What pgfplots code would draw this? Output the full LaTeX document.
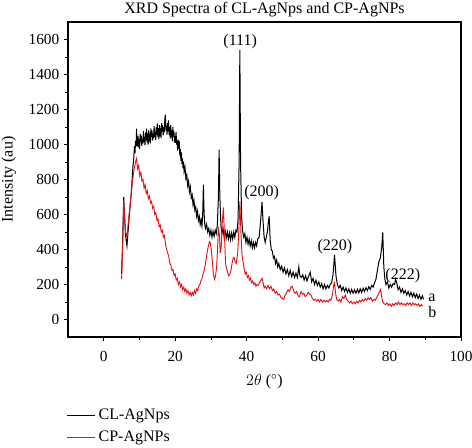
\documentclass[border=0pt]{standalone}
\usepackage{fontspec}
\setmainfont{Liberation Serif}
\usepackage{pgfplots}
\pgfplotsset{compat=1.18}
\definecolor{cpred}{RGB}{228,20,20}
\newcommand{\ff}{\fontsize{12}{14}\selectfont}
\begin{document}
\begin{tikzpicture}
\begin{axis}[
  name=ax,
  scale only axis,
  width=294.75pt, height=236.25pt,
  xmin=-10, xmax=100, ymin=-100, ymax=1700,
  xtick={0,20,40,60,80,100},
  ytick={0,200,400,600,800,1000,1200,1400,1600},
  minor x tick num=1, minor y tick num=1,
  tick align=outside,
  xtick pos=left, ytick pos=left,
  major tick length=3pt, minor tick length=2pt,
  axis line style={line width=0.8pt},
  every tick/.style={black, line width=0.6pt},
  /pgf/number format/assume math mode=true,
  /pgf/number format/1000 sep={},
  tick label style={font=\fontsize{11.5}{13}\selectfont},
  xticklabel style={yshift=-4pt},
  label style={font=\ff},
  title style={font=\ff, yshift=-6pt},
  title={XRD Spectra of CL-AgNps and CP-AgNPs},
  xlabel={$2\theta$ ($^{\circ}$)},
  ylabel={Intensity (au)},
  xlabel style={yshift=-3pt},
  ylabel style={yshift=2.5pt},
  clip=false,
  legend style={at={(0,0)}, anchor=north west, xshift=-4pt, yshift=-50pt, draw=none, fill=none,
    font=\ff, row sep=3pt},
  legend cell align=left,
  legend image code/.code={\draw[#1, line width=0.8pt] (0pt,0pt) -- (21pt,0pt);},
]
\addplot[black, line width=0.75pt] coordinates {
(5.0,260)(5.3,450)(5.6,700)(5.8,610)(6.1,480)(6.5,420)(6.8,500)(7.1,580)(7.4,650)(7.7,720)
(8.0,820)(8.2,880)(8.4,920)(8.6,990)(8.75,950)(8.9,1020)(9.05,990)(9.2,1090)(9.35,990)(9.5,1040)
(9.6,1043)(9.75,983)(9.9,1032)(10.05,975)(10.2,1062)(10.35,1014)(10.5,1050)(10.65,992)(10.8,1033)(10.95,1005)
(11.1,1076)(11.25,1013)(11.4,1044)(11.55,996)(11.7,1067)(11.85,1024)(12.0,1090)(12.15,1012)(12.3,1063)(12.45,1000)
(12.6,1081)(12.75,1018)(12.9,1064)(13.05,1006)(13.2,1092)(13.35,1044)(13.5,1080)(13.65,1022)(13.8,1063)(13.95,1035)
(14.1,1106)(14.25,1043)(14.4,1074)(14.55,1026)(14.7,1097)(14.85,1054)(15.0,1120)(15.15,1042)(15.3,1093)(15.45,1030)
(15.6,1111)(15.75,1048)(15.9,1094)(16.05,1036)(16.2,1122)(16.35,1074)(16.5,1110)(16.65,1052)(16.8,1097)(16.95,1070)
(17.1,1144)(17.25,1170)(17.4,1079)(17.55,1107)(17.7,1056)(17.85,1124)(18.0,1075)(18.15,1137)(18.3,1054)(18.45,1101)
(18.6,1033)(18.75,1110)(18.9,1042)(19.05,1084)(19.2,1019)(19.35,1100)(19.5,1045)(19.65,1076)(19.8,1011)(19.95,1047)
(20.1,1010)(20.25,1072)(20.4,1000)(20.55,1022)(20.7,965)(20.85,1027)(21.0,975)(21.15,1018)(21.3,936)(21.45,974)
(21.6,907)(21.75,955)(21.9,888)(22.05,921)(22.2,864)(22.35,902)(22.5,845)(22.75,870)(23.0,805)(23.25,825)
(23.5,765)(23.75,790)(24.0,730)(24.25,757)(24.5,695)(24.75,712)(25.0,655)(25.25,682)(25.5,625)(25.75,642)
(26.0,590)(26.25,618)(26.5,566)(26.75,589)(27.0,542)(27.25,570)(27.5,535)(27.7,600)(27.9,770)(28.1,600)
(28.3,540)(28.5,520)(28.8,545)
(29.1,500)(29.4,520)(29.7,480)(30.0,510)(30.3,470)(30.6,505)(30.9,475)(31.2,510)(31.5,490)(31.8,540)
(32.1,700)(32.3,970)(32.5,700)(32.8,540)(33.1,490)(33.4,520)(33.7,470)(34.0,505)(34.3,465)(34.6,500)
(34.9,460)(35.2,495)(35.5,455)(35.8,495)(36.1,460)(36.4,500)(36.7,470)(37.0,510)(37.3,500)(37.6,570)
(37.9,900)(38.1,1540)(38.3,900)(38.6,580)(38.9,500)(39.2,470)(39.5,490)(39.8,440)(40.1,470)(40.4,430)
(40.7,460)(41.0,420)(41.3,450)(41.6,410)(41.9,440)(42.2,410)(42.5,440)(42.8,420)(43.1,460)(43.5,470)
(43.9,560)(44.3,670)(44.6,560)(44.9,470)(45.2,440)(45.5,470)(45.8,500)(46.1,560)(46.3,590)(46.6,450)
(46.9,400)(47.2,390)(47.5,350)(47.8,360)(48.1,320)(48.4,340)(48.7,300)(49.0,320)(49.4,285)(49.8,305)
(50.2,270)(50.6,295)(51.0,260)(51.4,285)(51.8,250)(52.2,280)(52.6,245)(53.0,270)(53.4,240)(53.8,265)
(54.2,240)(54.6,300)(54.9,250)(55.3,240)(55.7,255)(56.1,225)(56.5,250)(56.9,220)(57.3,245)(57.8,270)
(58.2,215)(58.6,235)(59.0,200)(59.4,225)(59.8,195)(60.2,215)(60.6,185)(61.0,205)(61.4,175)(61.8,200)
(62.2,175)(62.6,195)(63.0,180)(63.4,200)(63.8,210)(64.2,260)(64.6,370)(65.0,250)(65.4,200)(65.8,180)
(66.2,195)(66.6,165)(67.0,185)(67.4,160)(67.8,180)(68.2,155)(68.6,175)(69.0,150)(69.4,172)(69.8,150)
(70.2,170)(70.6,150)(71.0,172)(71.4,152)(71.8,175)(72.2,155)(72.6,178)(73.0,160)(73.4,182)(73.8,165)
(74.2,188)(74.6,172)(75.0,195)(75.4,185)(75.8,210)(76.2,230)(76.6,280)(77.0,330)(77.4,350)(77.8,410)
(78.1,497)(78.4,300)(78.7,230)(79.0,200)(79.4,215)(79.8,180)(80.2,200)(80.6,185)(81.0,205)(81.4,200)
(81.7,230)(82.0,210)(82.4,170)(82.8,185)(83.2,155)(83.6,175)(84.0,150)(84.4,165)(84.8,140)(85.2,160)
(85.6,135)(86.0,155)(86.4,130)(86.8,150)(87.2,125)(87.6,145)(88.0,120)(88.4,140)(88.8,115)(89.2,135)
(89.5,115)
};
\addlegendentry{CL-AgNps}
\addplot[cpred, line width=0.7pt] coordinates {
(5.0,230)(5.3,420)(5.6,680)(5.8,600)(6.1,500)(6.5,470)(6.8,540)(7.1,600)(7.4,660)(7.7,720)
(8.0,780)(8.3,830)(8.6,870)(8.9,900)(9.2,920)(9.5,860)(9.8,880)(10.1,820)(10.4,840)(10.7,790)
(11.0,800)(11.3,750)(11.6,770)(11.9,720)(12.2,735)(12.5,690)(12.8,705)(13.1,665)(13.4,675)(13.7,635)
(14.0,645)(14.3,600)(14.6,610)(14.9,565)(15.2,575)(15.5,530)(15.8,540)(16.1,500)(16.4,510)(16.7,470)
(17.0,480)(17.3,430)(17.6,400)(17.9,380)(18.2,360)(18.5,320)(18.8,310)(19.1,280)(19.4,285)(19.7,250)
(20.0,260)(20.3,225)(20.6,235)(20.9,200)(21.2,215)(21.5,185)(21.8,200)(22.1,170)(22.4,185)(22.7,160)
(23.0,175)(23.3,150)(23.6,165)(23.9,140)(24.2,155)(24.5,135)(24.8,155)(25.1,140)(25.4,165)(25.7,150)
(26.0,175)(26.3,165)(26.6,190)(26.9,200)(27.2,220)(27.5,235)(27.8,260)(28.1,280)(28.4,310)(28.7,350)
(29.0,390)(29.3,420)(29.6,445)(29.8,440)(30.1,400)(30.4,330)(30.7,260)(31.0,230)(31.3,250)(31.6,300)
(31.9,420)(32.1,530)(32.4,480)(32.6,380)(32.9,420)(33.2,560)(33.5,640)(33.8,480)(34.1,320)(34.4,290)
(34.7,270)(35.0,250)(35.3,260)(35.6,280)(35.9,320)(36.2,350)(36.5,355)(36.8,330)(37.1,320)(37.5,380)
(37.8,500)(38.1,675)(38.4,500)(38.7,370)(39.0,330)(39.3,290)(39.6,260)(39.9,270)(40.2,240)(40.5,250)
(40.8,225)(41.1,235)(41.4,210)(41.7,220)(42.0,200)(42.3,210)(42.6,190)(42.9,200)(43.2,195)(43.6,210)
(44.0,225)(44.3,235)(44.6,210)(44.9,180)(45.2,190)(45.6,175)(46.0,195)(46.4,175)(46.8,190)(47.2,165)
(47.6,175)(48.0,150)(48.4,160)(48.8,140)(49.2,145)(49.6,125)(50.0,120)(50.4,115)(50.8,140)(51.2,155)
(51.6,170)(52.0,160)(52.4,185)(52.8,190)(53.2,160)(53.6,150)(54.0,160)(54.4,135)(54.8,130)(55.2,160)
(55.6,145)(56.0,150)(56.4,130)(56.8,140)(57.2,155)(57.6,145)(58.0,140)(58.4,120)(58.8,110)(59.2,115)
(59.6,105)(60.0,115)(60.4,100)(60.8,115)(61.2,100)(61.6,110)(62.0,100)(62.4,110)(62.8,100)(63.2,115)
(63.6,110)(64.0,140)(64.4,200)(64.6,210)(64.9,150)(65.2,115)(65.6,105)(66.0,115)(66.4,100)(66.8,130)
(67.2,120)(67.6,140)(68.0,115)(68.4,105)(68.8,95)(69.2,105)(69.6,90)(70.0,100)(70.4,90)(70.8,105)
(71.2,95)(71.6,110)(72.0,100)(72.4,115)(72.8,105)(73.2,120)(73.6,110)(74.0,125)(74.4,115)(74.8,125)
(75.2,105)(75.6,115)(76.0,110)(76.4,125)(76.8,140)(77.2,160)(77.5,172)(77.8,130)(78.1,100)(78.5,90)
(78.9,85)(79.3,95)(79.7,80)(80.1,90)(80.5,75)(80.9,90)(81.3,80)(81.7,95)(82.1,85)(82.5,100)
(82.9,85)(83.3,95)(83.7,85)(84.1,90)(84.5,80)(84.9,95)(85.3,85)(85.7,95)(86.1,80)(86.5,95)
(86.9,85)(87.3,90)(87.7,80)(88.1,90)(88.5,75)(88.9,85)(89.3,75)
};
\addlegendentry{CP-AgNPs}
\node[font=\ff] at (axis cs:38.2,1585) {(111)};
\node[font=\ff] at (axis cs:44.2,723) {(200)};
\node[font=\ff] at (axis cs:64.7,417) {(220)};
\node[font=\ff] at (axis cs:83.7,250) {(222)};
\node[font=\ff, anchor=west, inner sep=0pt] at (axis cs:90.8,125) {a};
\node[font=\ff, anchor=west, inner sep=0pt] at (axis cs:90.8,45) {b};
\end{axis}
\pgfresetboundingbox
\path[use as bounding box] ([xshift=-51pt,yshift=-83.25pt]ax.south west) rectangle ([xshift=8.25pt,yshift=16.5pt]ax.north east);
\end{tikzpicture}
\end{document}
